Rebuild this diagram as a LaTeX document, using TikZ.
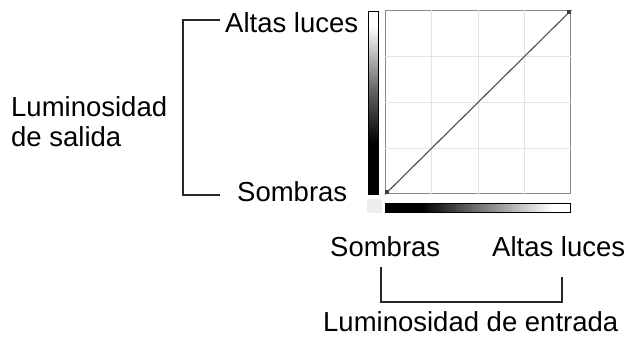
\documentclass[tikz,border=0pt]{standalone}
\usepackage{fontspec}
\setmainfont{Liberation Sans}
\usetikzlibrary{positioning,calc}
\definecolor{gridline}{HTML}{E4E4E4}
\definecolor{frame}{HTML}{8A8A8A}
\definecolor{corner}{HTML}{EDEDED}
\pgfdeclareverticalshading{outtone}{100bp}{color(0bp)=(black); color(25bp)=(black); color(39bp)=(black); color(53bp)=(black!62); color(71bp)=(white); color(100bp)=(white)}
\pgfdeclarehorizontalshading{intone}{100bp}{color(0bp)=(black); color(25bp)=(black); color(35bp)=(black); color(50bp)=(black!55); color(70bp)=(white); color(100bp)=(white)}
\tikzset{lbl/.style={font=\fontsize{27.5}{30}\selectfont,inner sep=0pt,anchor=west}, brk/.style={line width=1.3pt,draw=black!85}, bar/.style={draw=black,line width=0.8pt,inner sep=0pt,anchor=north west}, knot/.style={fill=black!75,inner sep=0pt,minimum size=4pt}}

\begin{document}
\begin{tikzpicture}[x=1pt,y=-1pt]
\useasboundingbox (0,0) rectangle (628,338);
% curve area
\node[draw=frame,line width=1.4pt,inner sep=0pt,anchor=north west,minimum width=185pt,minimum height=183pt] (box) at (385,10) {};
\foreach \i in {1,2,3}{\draw[gridline,line width=0.8pt]($(box.south west)!\i/4!(box.south east)$)--($(box.north west)!\i/4!(box.north east)$);
\draw[gridline,line width=0.8pt]($(box.south west)!\i/4!(box.north west)$)--($(box.south east)!\i/4!(box.north east)$);}
\draw[black!70,line width=1.1pt](box.south west)--(box.north east);
\node[knot] (k0) at ([shift={(2,-2)}]box.south west) {};
\node[knot] (k1) at ([shift={(-2,2)}]box.north east) {};
% tone bars
\node[bar,shading=outtone,minimum width=10pt,minimum height=183pt] (vbar) at (368,11) {};
\node[bar,shading=intone,minimum width=185pt,minimum height=9pt] (hbar) at (385,203) {};
\node[fill=corner,inner sep=0pt,anchor=north west,minimum width=15pt,minimum height=14pt] (sq) at (367,199) {};
% output labels
\node[lbl] (outhi) at (225,23) {Altas luces};
\node[lbl] (outlo) at (237,192) {Sombras};
\node[lbl,align=left] (outlbl) at (11,122) {Luminosidad\\de salida};
\coordinate (otop) at (220,20);
\coordinate (obot) at (220,195);
\draw[brk](otop)--++(-37,0)|-(obot);
% input labels
\node[lbl] (inlo) at (330,247) {Sombras};
\node[lbl] (inhi) at (492,247) {Altas luces};
\node[lbl] (inlbl) at (323,322) {Luminosidad de entrada};
\coordinate (ileft) at (381,267);
\coordinate (iright) at (562,277);
\draw[brk](ileft)--++(0,35)-|(iright);
\end{tikzpicture}
\end{document}
